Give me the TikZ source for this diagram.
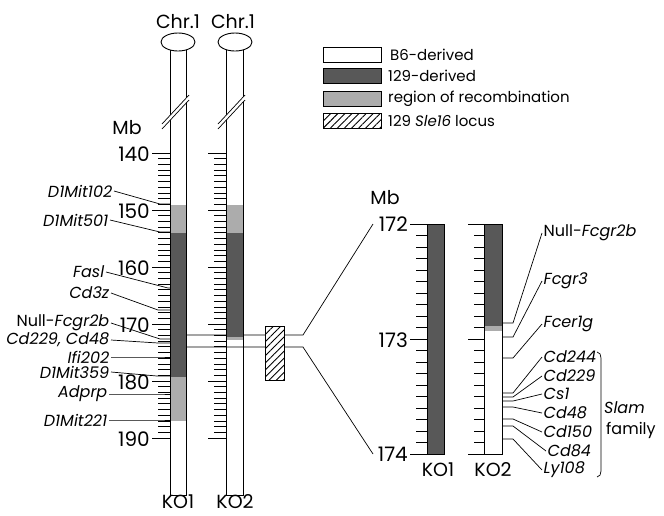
\documentclass[tikz,border=0pt]{standalone}
\usepackage{fontspec}
\setmainfont{Poppins}
\usetikzlibrary{patterns.meta}
\definecolor{dk}{RGB}{88,88,88}
\definecolor{lt}{RGB}{172,172,172}
\begin{document}
\begin{tikzpicture}[x=1pt,y=-1pt,
  tube/.style={draw=black, line width=0.9pt},
  tk/.style={line width=0.8pt},
  lead/.style={line width=0.7pt},
  num/.style={font=\fontsize{20}{20}\selectfont, inner sep=1pt, anchor=east},
  gene/.style={font=\fontsize{16}{16}\selectfont, inner sep=1.5pt, anchor=east},
  rgene/.style={font=\fontsize{16}{16}\selectfont, inner sep=1.5pt, anchor=west},
  big/.style={font=\fontsize{19}{19}\selectfont, inner sep=0pt},
  leg/.style={font=\fontsize{15}{15}\selectfont, inner sep=0pt, anchor=west},
  legbox/.style={draw, line width=0.8pt, minimum width=58pt, minimum height=15pt, inner sep=0pt},
  hatch/.style={draw, line width=0.8pt, preaction={fill=white}, pattern={Lines[angle=45,distance=5pt,line width=0.9pt]}}
]
\useasboundingbox (0,0) rectangle (664,515);

% ---------- connecting lines (behind KO2) ----------
\coordinate (u0) at (186,335);
\coordinate (u1) at (303,335);
\coordinate (u2) at (373,224);
\draw[lead] (u0) -- (u1) -- (u2);

% ---------- left chromosome KO1 ----------
\fill[white] (170,49) rectangle (186,205);
\fill[lt] (170,205) rectangle (186,233);
\fill[dk] (170,233) rectangle (186,377);
\fill[lt] (170,377) rectangle (186,421);
\draw[tube] (170,49) rectangle (186,495);
% ---------- left chromosome KO2 ----------
\fill[white] (226,49) rectangle (243,205);
\fill[lt] (226,205) rectangle (243,233);
\fill[dk] (226,233) rectangle (243,337);
\fill[lt] (226,337) rectangle (243,340);
\draw[tube] (226,49) rectangle (243,495);

% lower connecting line
\coordinate (l0) at (186,347);
\coordinate (l1) at (303,347);
\coordinate (l2) at (373,454);
\draw[lead] (l0) -- (l1) -- (l2);

% centromeres
\draw[tube, fill=white] (178,42) ellipse [x radius=17pt, y radius=9pt];
\draw[tube, fill=white] (235,42) ellipse [x radius=17pt, y radius=9pt];
\node[big] (chrA) at (178,22) {Chr.1};
\node[big] (chrB) at (233,22) {Chr.1};

% breaks
\fill[white] (162,124) -- (189,95) -- (189,100) -- (162,129) -- cycle;
\draw[lead] (162,124) -- (189,95) (162,129) -- (189,100);
\fill[white] (218,124) -- (245,95) -- (245,100) -- (218,129) -- cycle;
\draw[lead] (218,124) -- (245,95) (218,129) -- (245,100);

% ticks
\foreach \m in {0,...,50}{
  \pgfmathtruncatemacro\r{mod(\m,10)}
  \pgfmathsetmacro\yy{153+5.7*\m}
  \ifnum\r=0 \def\xa{152}\def\xb{208}\else\def\xa{158}\def\xb{214}\fi
  \draw[tk] (\xa,\yy) -- (170,\yy);
  \draw[tk] (\xb,\yy) -- (226,\yy);
}
\node[big] (mbL) at (127,128) {Mb};
\node[num] (n140) at (151,154) {140};
\node[num] (n150) at (151,211) {150};
\node[num] (n160) at (151,268) {160};
\node[num] (n170) at (151,325) {170};
\node[num] (n180) at (151,382) {180};
\node[num] (n190) at (151,439) {190};

% left gene labels
\foreach \nm/\txt/\xx/\yy/\bx/\by in {
  ga/{\textit{D1Mit102}}/114/191/160/204,
  gb/{\textit{D1Mit501}}/110/220/160/232,
  gc/{\textit{Fasl}}/106/272/168/288,
  gd/{\textit{Cd3z}}/111/293/158/310,
  ge/{Null-\textit{Fcgr2b}}/111/323/160/339,
  gf/{\textit{Cd229, Cd48}}/111/340/158/343,
  gg/{\textit{Ifi202}}/111/357/160/357,
  gh/{\textit{D1Mit359}}/111/372/157/376,
  gi/{\textit{Adprp}}/109/394/160/394,
  gj/{\textit{D1Mit221}}/109/420/160/420}{
  \node[gene] (\nm) at (\xx,\yy) {\txt};
  \coordinate (\nm b) at (\bx,\by);
  \coordinate (\nm e) at (170,\by);
  \draw[lead] (\nm.east) -- (\nm b) -- (\nm e);
}
\node[big] (koA) at (178,502) {KO1};
\node[big] (koB) at (235,502) {KO2};

% Sle16 locus box
\node[hatch, minimum width=19pt, minimum height=54pt, inner sep=0pt] (sle) at (274.5,353) {};

% ---------- right (zoomed) chromosomes ----------
\fill[dk] (427,224) rectangle (444,454);
\draw[tube] (427,224) rectangle (444,454);
\fill[dk] (484,224) rectangle (502,326);
\fill[lt] (484,326) rectangle (502,331);
\fill[white] (484,331) rectangle (502,454);
\draw[tube] (484,224) rectangle (502,454);
\foreach \i in {0,...,20}{
  \pgfmathtruncatemacro\r{mod(\i,10)}
  \pgfmathsetmacro\yy{224+11.5*\i}
  \ifnum\r=0 \def\xa{410}\def\xb{468}\else\def\xa{416}\def\xb{474}\fi
  \draw[tk] (\xa,\yy) -- (427,\yy);
  \draw[tk] (\xb,\yy) -- (484,\yy);
}
\node[big] (mbR) at (385,198) {Mb};
\node[num] (r172) at (409,224) {172};
\node[num] (r173) at (409,340) {173};
\node[num] (r174) at (409,454) {174};
\node[big] (koC) at (438,470) {KO1};
\node[big] (koD) at (493,470) {KO2};

\foreach \nm/\txt/\xx/\yy/\by in {
  ra/{Null-\textit{Fcgr2b}}/542/233/323,
  rb/{\textit{Fcgr3}}/542/281/337,
  rc/{\textit{Fcer1g}}/542/324/358,
  rd/{\textit{Cd244}}/542/357/393,
  re/{\textit{Cd229}}/542/376/397,
  rf/{\textit{Cs1}}/542/394/401,
  rg/{\textit{Cd48}}/542/413/407,
  rh/{\textit{Cd150}}/542/432/419,
  ri/{\textit{Cd84}}/546/451/426,
  rj/{\textit{Ly108}}/542/470/439}{
  \node[rgene] (\nm) at (\xx,\yy) {\txt};
  \coordinate (\nm s) at (502,\by);
  \coordinate (\nm b) at (513,\by);
  \draw[lead] (\nm s) -- (\nm b) -- (\nm.west);
}
\coordinate (brT) at (597,352);
\coordinate (brB) at (597,477);
\draw[lead] (brT) to[out=0,in=90] (601,358) -- (601,471) to[out=-90,in=0] (brB);
\node[leg, anchor=west, font=\fontsize{16}{16}\selectfont] (slam) at (604,408) {\textit{Slam}};
\node[leg, anchor=west, font=\fontsize{16}{16}\selectfont] (fam) at (606,430) {family};

% ---------- legend ----------
\node[legbox, fill=white] (lb1) at (352,55) {};
\node[legbox, fill=dk] (lb2) at (352,76) {};
\node[legbox, fill=lt] (lb3) at (352,99) {};
\node[legbox, hatch] (lb4) at (352,121) {};
\node[leg] (lt1) at (390,55) {B6-derived};
\node[leg] (lt2) at (388,76) {129-derived};
\node[leg] (lt3) at (388,99) {region of recombination};
\node[leg] (lt4) at (388,121) {129 \textit{Sle16} locus};
\end{tikzpicture}
\end{document}
